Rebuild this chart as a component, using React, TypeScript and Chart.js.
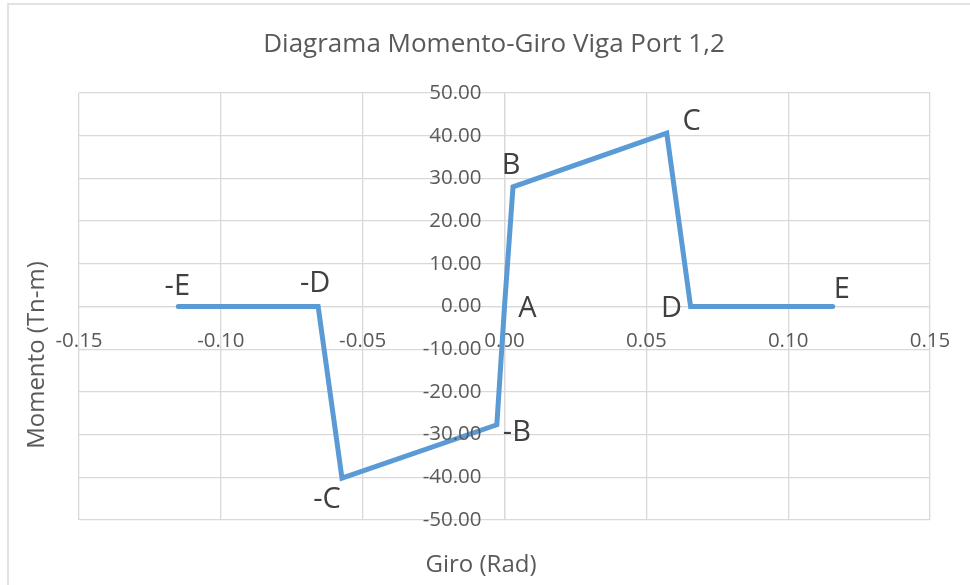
import React, { useEffect, useRef } from "react";
import { Chart, registerables } from "chart.js";

Chart.register(...registerables);

// Momento-Giro data (Giro in rad, Momento in Tn-m)
const GIRO = [-0.115, -0.0657, -0.0573, -0.0027, 0, 0.003, 0.0572, 0.0656, 0.1157];
const MOMENTO = [0, 0, -40.2, -27.7, 0, 28.0, 40.6, 0, 0];
const POINT_LABELS = ["-E", "-D", "-C", "-B", "A", "B", "C", "D", "E"];

const X_MIN = -0.15, X_MAX = 0.15, X_STEP = 0.05;
const Y_MIN = -50, Y_MAX = 50, Y_STEP = 10;

const TITLE = "Diagrama Momento-Giro Viga Port 1,2";
const X_TITLE = "Giro (Rad)";
const Y_TITLE = "Momento (Tn-m)";

const FONT = "'Open Sans', 'Noto Sans', sans-serif";
const TEXT = "#595959";
const GRID = "#D9D9D9";
const TICK_SIZE = 20.5;

// label offsets (pixels) relative to each point
const LABEL_OFFSETS = [
  [-1, -20], [-3, -23], [-15, 22], [20, 8], [23, 2], [-2, -21], [25, -11], [-19, 2], [9, -17],
];

const textPlugin = {
  id: "texts",
  afterDatasetsDraw(chart: any) {
    const { ctx } = chart;
    const xs = chart.scales.x, ys = chart.scales.y;
    ctx.save();
    // frame lines
    ctx.strokeStyle = GRID;
    ctx.lineWidth = 1.5;
    ctx.beginPath();
    ctx.moveTo(8, 585);
    ctx.lineTo(8, 4);
    ctx.lineTo(970, 4);
    ctx.stroke();

    // y tick labels, placed left of the vertical axis (x = 0)
    ctx.fillStyle = TEXT;
    ctx.font = `${TICK_SIZE}px ${FONT}`;
    ctx.textAlign = "right";
    ctx.textBaseline = "middle";
    const axisX = xs.getPixelForValue(0);
    ys.ticks.forEach((t: any) => {
      ctx.fillText(Number(t.value).toFixed(2), axisX - 23, ys.getPixelForValue(t.value));
    });

    ctx.textAlign = "center";
    ctx.font = `26px ${FONT}`;
    ctx.fillText(TITLE, 494, 45);
    ctx.font = `24px ${FONT}`;
    ctx.fillText(X_TITLE, 481, 565);
    ctx.save();
    ctx.translate(37, 355);
    ctx.rotate(-Math.PI / 2);
    ctx.fillText(Y_TITLE, 0, 0);
    ctx.restore();

    ctx.fillStyle = "#404040";
    ctx.font = `29px ${FONT}`;
    POINT_LABELS.forEach((lab, i) => {
      const px = xs.getPixelForValue(GIRO[i]);
      const py = ys.getPixelForValue(MOMENTO[i]);
      const [dx, dy] = LABEL_OFFSETS[i];
      ctx.fillText(lab, px + dx, py + dy);
    });
    ctx.restore();
  },
};

export default function App() {
  const ref = useRef<HTMLCanvasElement>(null);
  useEffect(() => {
    if (!ref.current) return;
    const chart = new Chart(ref.current, {
      type: "scatter",
      data: {
        datasets: [
          {
            data: GIRO.map((g, i) => ({ x: g, y: MOMENTO[i] })),
            showLine: true,
            borderColor: "#5B9BD5",
            backgroundColor: "#5B9BD5",
            borderWidth: 5,
            pointRadius: 0,
            borderCapStyle: "round",
            borderJoinStyle: "miter",
            tension: 0,
          },
        ],
      },
      plugins: [textPlugin],
      options: {
        animation: false,
        responsive: false,
        maintainAspectRatio: false,
        layout: { padding: { left: 79, right: 40, top: 93, bottom: 65 } },
        plugins: { legend: { display: false }, title: { display: false }, tooltip: { enabled: false } },
        scales: {
          x: {
            type: "linear",
            min: X_MIN,
            max: X_MAX,
            position: { y: 0 },
            grid: { color: GRID, lineWidth: 1.3, drawTicks: true, tickLength: 22, tickColor: "rgba(0,0,0,0)" },
            border: { color: GRID, width: 1.3 },
            ticks: {
              stepSize: X_STEP,
              padding: 0,
              color: TEXT,
              font: { family: FONT, size: TICK_SIZE },
              maxRotation: 0,
              callback: (v: any) => Number(v).toFixed(2),
            },
          },
          y: {
            type: "linear",
            min: Y_MIN,
            max: Y_MAX,
            position: { x: 0 },
            grid: { color: GRID, lineWidth: 1.3, drawTicks: false },
            border: { color: GRID, width: 1.3 },
            ticks: {
              stepSize: Y_STEP,
              color: "rgba(0,0,0,0)",
              font: { family: FONT, size: TICK_SIZE },
              callback: (v: any) => Number(v).toFixed(2),
            },
          },
        },
      },
    } as any);
    return () => chart.destroy();
  }, []);
  return (
    <div style={{ position: "fixed", left: 0, top: 0, width: 970, height: 585, background: "#fff" }}>
      <canvas ref={ref} width={970} height={585} style={{ width: 970, height: 585 }} />
    </div>
  );
}
